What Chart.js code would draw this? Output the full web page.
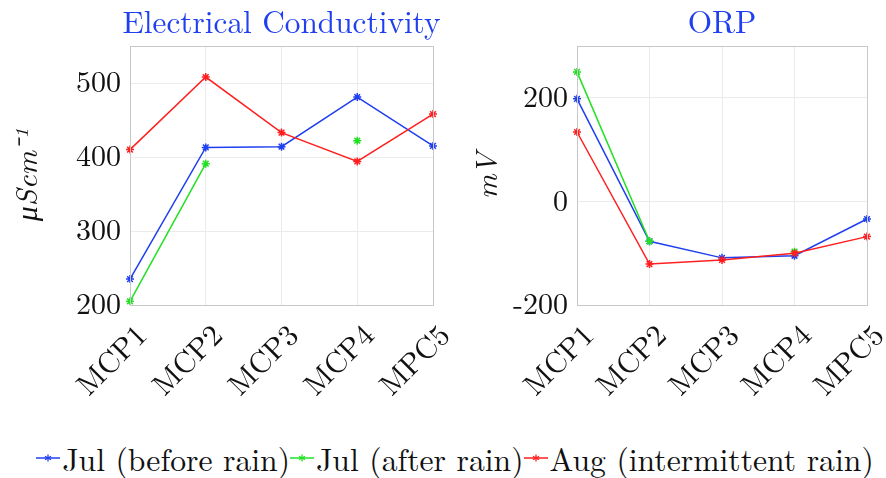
<!DOCTYPE html>
<html>
<head>
<meta charset="utf-8">
<script src="https://cdn.jsdelivr.net/npm/chart.js@4/dist/chart.umd.min.js"></script>
<style>
    body { margin: 0; background: #fff; }
    #wrap { position: relative; width: 886px; height: 478px; overflow: hidden; }
    #ecBox { position: absolute; left: 0; top: 0; }
    #orpBox { position: absolute; left: 443px; top: 0; }
    #legend {
        position: absolute; left: 12px; top: 438px; width: 886px;
        display: flex; justify-content: center; white-space: nowrap;
        font-family: 'Latin Modern Roman', 'Liberation Serif', serif; font-size: 31.7px; color: #111;
    }
    .item { display: flex; align-items: center; line-height: 40px; }
    .item svg { margin-right: 2px; }
</style>
</head>
<body>
<div id="wrap">
    <div id="ecBox"><canvas id="ecChart" width="462" height="410"></canvas></div>
    <div id="orpBox"><canvas id="orpChart" width="443" height="410"></canvas></div>
    <div id="legend"></div>
</div>
<script>
// Sampling sites (x axis)
const sites = ['MCP1', 'MCP2', 'MCP3', 'MCP4', 'MPC5'];

// Electrical conductivity (µS/cm)
const ecJulBefore = [235, 413, 414, 481, 415];
const ecJulAfter = [205, 391, null, 422, null];
const ecAug = [410, 508, 433, 394, 458];
const ecTicks = [200, 300, 400, 500];

// ORP (mV)
const orpJulBefore = [198, -77, -109, -105, -34];
const orpJulAfter = [250, -77, null, -97, null];
const orpAug = [134, -121, -113, -100, -68];
const orpTicks = [-200, 0, 200];

const seriesNames = ['Jul (before rain)', 'Jul (after rain)', 'Aug (intermittent rain)'];
const seriesColors = ['#1f3ff0', '#22e022', '#ff1f1f'];

const SERIF = "'Latin Modern Roman', 'Liberation Serif', serif";

// grey box around the plot area + panel title centred over it
// (the built-in title squeezes text wider than the plot area)
const panelPlugin = {
    id: 'panel',
    afterDraw(chart, args, opts) {
        const a = chart.chartArea;
        const ctx = chart.ctx;
        ctx.save();
        ctx.strokeStyle = '#c8c8c8';
        ctx.lineWidth = 1;
        ctx.strokeRect(Math.round(a.left) + 0.5, Math.round(a.top) + 0.5,
            Math.round(a.right - a.left), Math.round(a.bottom - a.top));
        ctx.fillStyle = '#1f3ff0';
        ctx.font = `31.3px ${SERIF}`;
        ctx.textAlign = 'center';
        ctx.textBaseline = 'alphabetic';
        ctx.fillText(opts.text, (a.left + a.right) / 2, a.top - 13);
        ctx.restore();
    }
};

function makeDatasets(values) {
    return values.map((data, i) => ({
        label: seriesNames[i],
        data: data,
        borderColor: seriesColors[i],
        backgroundColor: seriesColors[i],
        borderWidth: 1.5,
        pointStyle: 'star',
        pointRadius: 4,
        pointBorderWidth: 1.5,
        spanGaps: false,
        tension: 0,
        order: 3 - i
    }));
}

function makeChart(id, opts) {
    const ctx = document.getElementById(id).getContext('2d');
    return new Chart(ctx, {
        type: 'line',
        data: { labels: sites, datasets: makeDatasets(opts.values) },
        options: {
            responsive: false,
            animation: false,
            layout: { padding: { left: 0, right: opts.padRight, top: 46, bottom: 0 } },
            plugins: {
                legend: { display: false },
                tooltip: { enabled: false },
                panel: { text: opts.title }
            },
            scales: {
                x: {
                    grid: { color: '#ebebeb', drawTicks: false },
                    border: { display: false },
                    ticks: {
                        color: '#111',
                        font: { family: SERIF, size: 30 },
                        minRotation: 45,
                        maxRotation: 45,
                        labelOffset: 12,
                        padding: 13
                    },
                    afterFit(scale) {
                        scale.height = 105;
                        scale.paddingLeft = 0;
                        scale.paddingRight = 0;
                    }
                },
                y: {
                    min: opts.min,
                    max: opts.max,
                    grid: { color: '#ebebeb', drawTicks: false },
                    border: { display: false },
                    afterBuildTicks(scale) {
                        scale.ticks = opts.ticks.map(v => ({ value: v }));
                    },
                    ticks: {
                        color: '#111',
                        font: { family: SERIF, size: 30 },
                        padding: 9
                    },
                    title: {
                        display: true,
                        text: opts.yTitle,
                        color: '#111',
                        font: { family: SERIF, size: 30, style: 'italic' },
                        padding: { top: opts.titlePad, bottom: 0 }
                    },
                    afterFit(scale) {
                        scale.width = opts.yWidth;
                        scale.paddingTop = 0;
                        scale.paddingBottom = 0;
                    }
                }
            }
        },
        plugins: [panelPlugin]
    });
}

makeChart('ecChart', {
    values: [ecJulBefore, ecJulAfter, ecAug],
    title: 'Electrical Conductivity',
    yTitle: 'μScm⁻¹',
    min: 200, max: 550, ticks: ecTicks,
    yWidth: 130, padRight: 29, titlePad: 10
});

makeChart('orpChart', {
    values: [orpJulBefore, orpJulAfter, orpAug],
    title: 'ORP',
    yTitle: 'mV',
    min: -200, max: 300, ticks: orpTicks,
    yWidth: 134, padRight: 19, titlePad: 27
});

// shared legend under both panels
document.getElementById('legend').innerHTML = seriesNames.map((name, i) => `
    <span class="item">
        <svg width="24" height="14" viewBox="0 0 24 14">
            <line x1="0" y1="7" x2="24" y2="7" stroke="${seriesColors[i]}" stroke-width="1.5"/>
            <g stroke="${seriesColors[i]}" stroke-width="1.3">
                <line x1="12" y1="3.5" x2="12" y2="10.5"/>
                <line x1="9" y1="5.2" x2="15" y2="8.8"/>
                <line x1="9" y1="8.8" x2="15" y2="5.2"/>
            </g>
        </svg>${name}</span>`).join('');
</script>
</body>
</html>
